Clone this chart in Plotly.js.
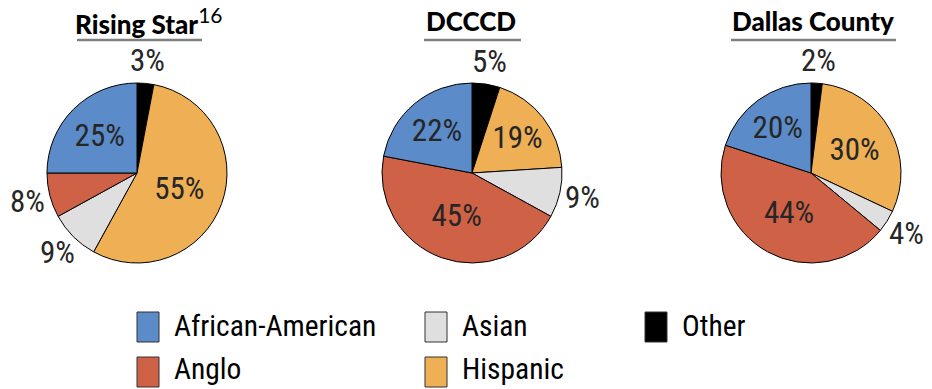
<!DOCTYPE html>
<html>
<head>
<meta charset="utf-8">
<script src="https://cdn.plot.ly/plotly-3.0.1.min.js"></script>
<style>html,body{margin:0;padding:0;background:#fff;}</style>
</head>
<body>
<div id="chart" style="width:932px;height:389px;"></div>
<script>
// Categories in clockwise order starting at 12 o'clock
const categories = ["Other", "Hispanic", "Asian", "Anglo", "African-American"];
const colors = ["#000000", "#EEAF55", "#DFDFDF", "#CF6246", "#5B8BC8"];
const chartTitles = ["Rising Star", "DCCCD", "Dallas County"];
const titleNotes = ["16", "", ""];
const risingStar = [3, 55, 9, 8, 25];
const dcccd = [5, 19, 9, 45, 22];
const dallasCounty = [2, 30, 4, 44, 20];
const legendOrder = ["African-American", "Anglo", "Asian", "Hispanic", "Other"];

const W = 932, H = 389;
const series = [risingStar, dcccd, dallasCounty];
const centers = [137, 472, 811];
const cy = 173, R = 90;
const textFont = "Liberation Sans Narrow, Arial Narrow, Roboto Condensed, Liberation Sans, sans-serif";
const txtColor = "#262626";
const isOutside = v => v < 10;

const traces = series.map((vals, i) => ({
  type: "pie",
  labels: categories,
  values: vals,
  sort: false,
  direction: "clockwise",
  rotation: 0,
  marker: {colors: colors, line: {color: "#000", width: 1}},
  texttemplate: "%{value}%",
  textposition: vals.map(v => isOutside(v) ? "none" : "inside"),
  insidetextorientation: "horizontal",
  textfont: {family: textFont, size: 31, color: txtColor},
  insidetextfont: {family: textFont, size: 31, color: txtColor},
  showlegend: false,
  hoverinfo: "label+value",
  domain: {
    x: [(centers[i] - R) / W, (centers[i] + R) / W],
    y: [1 - (cy + R) / H, 1 - (cy - R) / H]
  }
}));

const annotations = [];
const shapes = [];

// outside percentage labels, placed along each slice's mid-angle (computed from the data)
series.forEach((vals, i) => {
  const total = vals.reduce((a, b) => a + b, 0);
  let cum = 0;
  vals.forEach(v => {
    const mid = (cum + v / 2) / total * 2 * Math.PI;
    cum += v;
    if (!isOutside(v)) return;
    const d = R * 1.255;
    const px = centers[i] + d * Math.sin(mid);
    const py = cy - d * Math.cos(mid);
    annotations.push({
      xref: "paper", yref: "paper",
      x: px / W, y: 1 - py / H,
      xanchor: "center", yanchor: "middle",
      text: v + "%", showarrow: false,
      font: {family: textFont, size: 31, color: txtColor}
    });
  });
});

const titleCenters = [149, 471, 813];
const underline = [[77, 202], [424, 521], [731, 896]];
chartTitles.forEach((t, i) => {
  const note = titleNotes[i] ? "<sup><span style=\"font-weight:normal;font-size:21px\">" + titleNotes[i] + "</span></sup>" : "";
  annotations.push({
    xref: "paper", yref: "paper",
    x: titleCenters[i] / W, y: 1 - 21 / H,
    xanchor: "center", yanchor: "middle",
    text: t + note,
    showarrow: false,
    font: {family: "Lato, Open Sans, sans-serif", size: 26, color: "#000", weight: 900}
  });
  shapes.push({
    type: "line", xref: "paper", yref: "paper",
    x0: underline[i][0] / W, x1: underline[i][1] / W,
    y0: 1 - 40 / H, y1: 1 - 40 / H,
    line: {color: "#808080", width: 2.5}
  });
});

// legend built from categories/colors
const legCols = [137, 425, 645];
const legRows = [312, 357];
legendOrder.forEach((name, k) => {
  const col = Math.floor(k / 2), row = k % 2;
  const c = colors[categories.indexOf(name)];
  const x0 = legCols[col], y0 = legRows[row];
  shapes.push({
    type: "rect", xref: "paper", yref: "paper",
    x0: x0 / W, x1: (x0 + 22) / W,
    y0: 1 - (y0 + 30) / H, y1: 1 - y0 / H,
    fillcolor: c, line: {color: "#333", width: 1}
  });
  annotations.push({
    xref: "paper", yref: "paper",
    x: (x0 + 36) / W, y: 1 - (y0 + 14 - row * 2) / H,
    xanchor: "left", yanchor: "middle",
    text: name, showarrow: false, borderpad: 0,
    font: {family: textFont, size: 29.5, color: "#000"}
  });
});

const layout = {
  width: W, height: H,
  margin: {l: 0, r: 0, t: 0, b: 0},
  paper_bgcolor: "#fff",
  showlegend: false,
  annotations: annotations,
  shapes: shapes
};

Plotly.newPlot("chart", traces, layout, {displayModeBar: false, staticPlot: true});
</script>
</body>
</html>
